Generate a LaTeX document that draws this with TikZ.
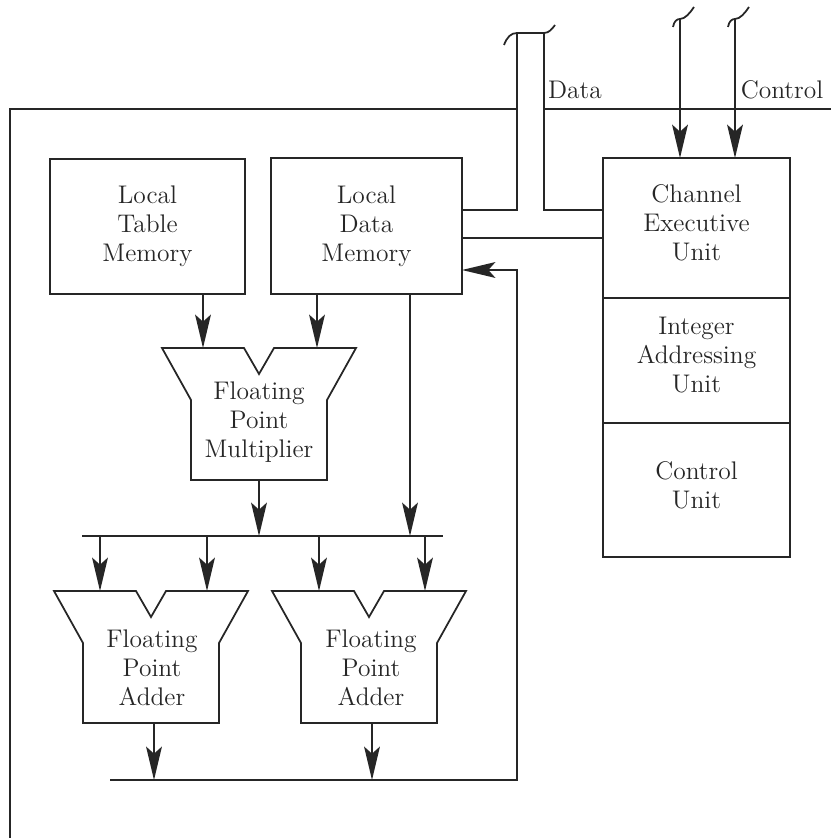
\documentclass[tikz,border=0pt]{standalone}
\usepackage{tikz}
\usetikzlibrary{arrows.meta, positioning}

\tikzset{
  % arithmetic unit outline, drawn from the middle of its top edge
  fpu/.pic={\draw (-97,0) -- (-15,0) -- (0,26) -- (15,0) -- (97,0) -- (68,52) -- (68,132)
        -- (-68,132) -- (-68,52) -- cycle;},
  % small break mark on top of a control line
  brk/.pic={\draw (-7,8) .. controls (-6,2) and (-3,0) .. (0,0) .. controls (5,0) and (10,-6) .. (14,-12);}
}

\begin{document}
\begin{tikzpicture}[x=0.02cm, y=-0.02cm, line width=1pt, color=black!85,
    >={Stealth[length=19pt, width=9pt, inset=4pt]},
    block/.style={draw, outer sep=0pt, align=center, font=\fontsize{14.5}{16.5}\selectfont},
    tag/.style={font=\fontsize{14.5}{16.5}\selectfont}]
        \useasboundingbox (0,0) rectangle (831,838);

        % outer frame (open at the data bus)
        \draw (10,838) -- (10,109) -- (517,109);
        \draw (544,109) -- (831,109);

        % memories
        \node[block, minimum width=3.9cm, minimum height=2.7cm] (ltm) at (147.5,226.5) {Local\\Table\\Memory};
        \node[block, minimum width=3.82cm, minimum height=2.72cm] (ldm) at (366.5,226) {Local\\Data\\Memory};

        % channel executive column
        \node[block, text depth=6pt, minimum width=3.74cm, minimum height=2.8cm] (ceu) at (696.5,228) {Channel\\Executive\\Unit};
        \node[block, text depth=6pt, minimum width=3.74cm, minimum height=2.5cm, below=0pt of ceu] (iau) {Integer\\Addressing\\Unit};
        \node[block, text depth=6pt, minimum width=3.74cm, minimum height=2.68cm, below=0pt of iau] (cu) {Control\\Unit};

        % multiplier and adders
        \pic at (259,348) {fpu};
        \pic at (151,591) {fpu};
        \pic at (369,591) {fpu};
        \node[block, draw=none] (mul) at (259,422) {Floating\\Point\\Multiplier};
        \node[block, draw=none] (add1) at (152,668) {Floating\\Point\\Adder};
        \node[block, draw=none] (add2) at (371,668) {Floating\\Point\\Adder};

        % ports and bus points
        \coordinate (mul-a) at (203,348);
        \coordinate (mul-b) at (317,348);
        \coordinate (mul-out) at (259,480);
        \coordinate (tap) at (410,536);
        \coordinate (bus1-l) at (82,536);
        \coordinate (bus1-r) at (443,536);
        \coordinate (add1-a) at (100,591);
        \coordinate (add1-b) at (207,591);
        \coordinate (add2-a) at (319,591);
        \coordinate (add2-b) at (425,591);
        \coordinate (add1-out) at (154,723);
        \coordinate (add2-out) at (372,723);
        \coordinate (bus2-l) at (110,780);
        \coordinate (bus2-r) at (517,780);
        \coordinate (fb) at (517,270);

        % memories into the multiplier
        \draw[->] (ltm.south -| mul-a) -- (mul-a);
        \draw[->] (ldm.south -| mul-b) -- (mul-b);

        % upper bus
        \draw (bus1-l) -- (bus1-r);
        \draw[->] (mul-out) -- (mul-out |- bus1-l);
        \draw[->] (ldm.south -| tap) -- (tap);
        \draw[->] (add1-a |- bus1-l) -- (add1-a);
        \draw[->] (add1-b |- bus1-l) -- (add1-b);
        \draw[->] (add2-a |- bus1-l) -- (add2-a);
        \draw[->] (add2-b |- bus1-l) -- (add2-b);

        % lower bus and feedback to data memory
        \draw[->] (add1-out) -- (add1-out |- bus2-l);
        \draw[->] (add2-out) -- (add2-out |- bus2-l);
        \draw[->] (bus2-l) -- (bus2-r) -- (fb) -- (fb -| ldm.east);

        % data bus
        \coordinate (dl-top) at (517,33);
        \coordinate (dr-top) at (544,33);
        \coordinate (dturn) at (544,210);
        \coordinate (dlink) at (544,238);
        \draw (504,45) .. controls (507,37) and (511,33) .. (dl-top) -- (dr-top)
              .. controls (549,33) and (552,29) .. (555,25);
        \draw (dl-top) -- (dl-top |- dturn) -- (ldm.east |- dturn);
        \draw (dr-top) -- (dturn) -- (dturn -| ceu.west);
        \draw (dlink -| ldm.east) -- (dlink -| ceu.west);
        \node[tag] (data) at (575,90) {Data};

        % control lines
        \coordinate (ctl-a) at (680,19);
        \coordinate (ctl-b) at (735,19);
        \pic at (ctl-a) {brk};
        \pic at (ctl-b) {brk};
        \draw[->] (ctl-a) -- (ctl-a |- ceu.north);
        \draw[->] (ctl-b) -- (ctl-b |- ceu.north);
        \node[tag] (ctrl) at (782,90) {Control};

    \end{tikzpicture}
\end{document}
